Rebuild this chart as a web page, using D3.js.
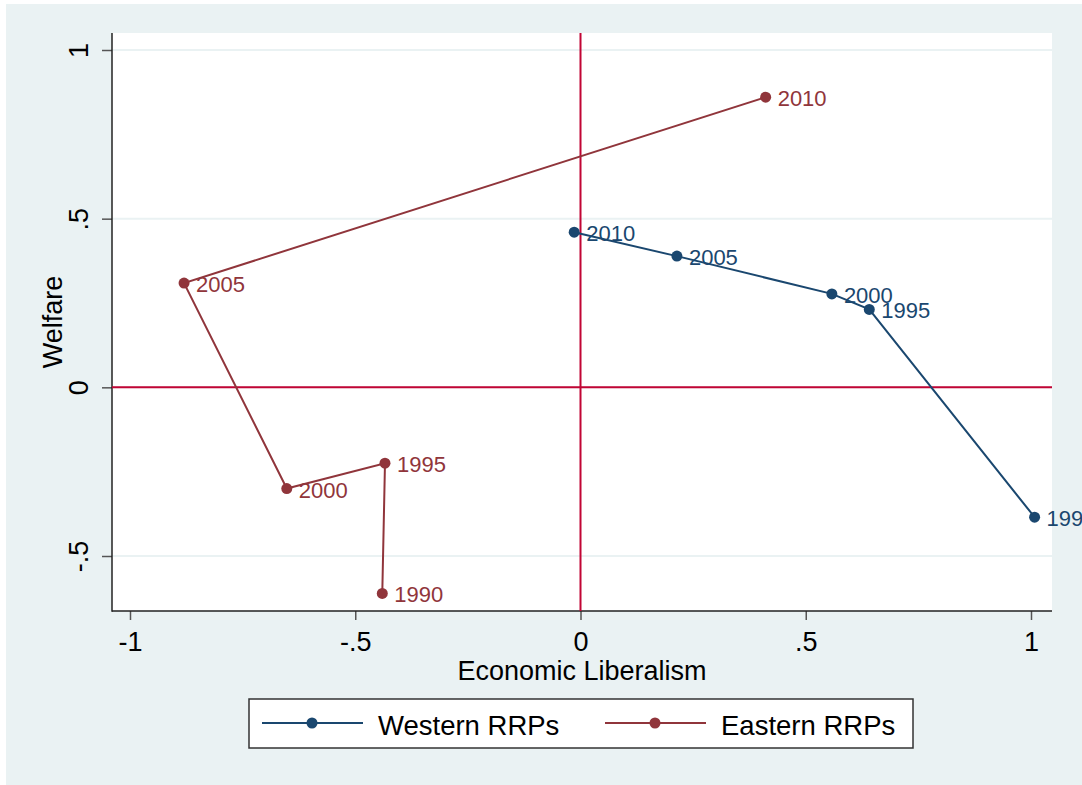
<!DOCTYPE html>
<html>
<head>
<meta charset="utf-8">
<script src="https://cdn.jsdelivr.net/npm/d3@7"></script>
<style>
  body { margin: 0; background: #fff; }
  svg { display: block; font-family: Arial, "Liberation Sans", sans-serif; }
</style>
</head>
<body>
<svg id="chart" width="1082" height="785"></svg>
<script>
// data
const years = [1990, 1995, 2000, 2005, 2010];
const westernLib = [1.008, 0.641, 0.558, 0.214, -0.014];
const westernWelfare = [-0.385, 0.231, 0.277, 0.389, 0.46];
const easternLib = [-0.44, -0.434, -0.652, -0.88, 0.411];
const easternWelfare = [-0.611, -0.225, -0.3, 0.309, 0.86];

const seriesNames = ['Western RRPs', 'Eastern RRPs'];
const seriesColors = ['#1a476f', '#90353b'];

const xTicks = [-1, -0.5, 0, 0.5, 1];
const xTickLabels = ['-1', '-.5', '0', '.5', '1'];
const yTicks = [-0.5, 0, 0.5, 1];
const yTickLabels = ['-.5', '0', '.5', '1'];

const render = () => {
  const svg = d3.select('#chart');

  // plot region in pixels
  const plot = { left: 112, right: 1052, top: 33, bottom: 611 };

  const x = d3.scaleLinear().domain([-1, 1]).range([130, 1031]);
  const y = d3.scaleLinear().domain([-0.5, 1]).range([556, 50]);

  const series = [
    { name: seriesNames[0], color: seriesColors[0], lib: westernLib, welfare: westernWelfare },
    { name: seriesNames[1], color: seriesColors[1], lib: easternLib, welfare: easternWelfare }
  ].map((s) => ({
    ...s,
    points: years.map((yr, i) => ({ year: yr, x: s.lib[i], y: s.welfare[i] }))
  }));

  // graph region background
  svg.append('rect')
    .attr('x', 6).attr('y', 4)
    .attr('width', 1082).attr('height', 785)
    .attr('fill', '#eaf2f3');

  // plot region
  svg.append('rect')
    .attr('x', plot.left).attr('y', plot.top)
    .attr('width', plot.right - plot.left)
    .attr('height', plot.bottom - plot.top)
    .attr('fill', '#fff');

  // horizontal gridlines
  svg.append('g')
    .selectAll('line')
    .data(yTicks)
    .enter()
    .append('line')
    .attr('x1', plot.left).attr('x2', plot.right)
    .attr('y1', (d) => y(d)).attr('y2', (d) => y(d))
    .attr('stroke', '#eaf2f3')
    .attr('stroke-width', 2);

  // x axis
  const xAxis = d3.axisBottom(x)
    .tickValues(xTicks)
    .tickFormat((d, i) => xTickLabels[i])
    .tickSize(9)
    .tickSizeOuter(0)
    .tickPadding(12);

  const gx = svg.append('g')
    .attr('transform', `translate(0, ${plot.bottom})`)
    .call(xAxis);
  gx.select('.domain').remove();
  gx.selectAll('.tick line').attr('stroke', '#555').attr('stroke-width', 1.5);
  gx.selectAll('.tick text')
    .attr('fill', '#000')
    .style('font-size', '27px')
    .style('font-family', 'Arial, "Liberation Sans", sans-serif');

  // y axis with rotated labels
  const yAxis = d3.axisLeft(y)
    .tickValues(yTicks)
    .tickFormat((d, i) => yTickLabels[i])
    .tickSize(10)
    .tickSizeOuter(0);

  const gy = svg.append('g')
    .attr('transform', `translate(${plot.left}, 0)`)
    .call(yAxis);
  gy.select('.domain').remove();
  gy.selectAll('.tick line').attr('stroke', '#555').attr('stroke-width', 1.5);
  gy.selectAll('.tick text')
    .attr('transform', 'rotate(-90)')
    .attr('x', 0)
    .attr('y', -24)
    .attr('dy', 0)
    .attr('text-anchor', 'middle')
    .attr('fill', '#000')
    .style('font-size', '27px')
    .style('font-family', 'Arial, "Liberation Sans", sans-serif');

  // axis lines
  svg.append('line')
    .attr('x1', plot.left).attr('x2', plot.left)
    .attr('y1', plot.top).attr('y2', plot.bottom + 0.75)
    .attr('stroke', '#222').attr('stroke-width', 1.5);
  svg.append('line')
    .attr('x1', plot.left).attr('x2', plot.right)
    .attr('y1', plot.bottom).attr('y2', plot.bottom)
    .attr('stroke', '#222').attr('stroke-width', 1.5);

  // red reference lines at zero
  svg.append('line')
    .attr('x1', x(0)).attr('x2', x(0))
    .attr('y1', plot.top).attr('y2', plot.bottom)
    .attr('stroke', '#c10534').attr('stroke-width', 2);
  svg.append('line')
    .attr('x1', plot.left).attr('x2', plot.right)
    .attr('y1', y(0)).attr('y2', y(0))
    .attr('stroke', '#c10534').attr('stroke-width', 2);

  // connected series
  const line = d3.line().x((d) => x(d.x)).y((d) => y(d.y));

  const groups = svg.append('g')
    .selectAll('g')
    .data(series)
    .enter()
    .append('g');

  groups.append('path')
    .attr('d', (d) => line(d.points))
    .attr('fill', 'none')
    .attr('stroke', (d) => d.color)
    .attr('stroke-width', 2);

  groups.selectAll('circle')
    .data((d) => d.points.map((p) => ({ ...p, color: d.color })))
    .enter()
    .append('circle')
    .attr('cx', (d) => x(d.x))
    .attr('cy', (d) => y(d.y))
    .attr('r', 5.5)
    .attr('fill', (d) => d.color);

  groups.selectAll('text')
    .data((d) => d.points.map((p) => ({ ...p, color: d.color })))
    .enter()
    .append('text')
    .attr('x', (d) => x(d.x) + 12)
    .attr('y', (d) => y(d.y) + 9)
    .attr('fill', (d) => d.color)
    .style('font-size', '22px')
    .text((d) => d.year);

  // axis titles
  svg.append('text')
    .attr('transform', `translate(62, ${(plot.top + plot.bottom) / 2}) rotate(-90)`)
    .attr('text-anchor', 'middle')
    .style('font-size', '27px')
    .text('Welfare');

  svg.append('text')
    .attr('x', (plot.left + plot.right) / 2)
    .attr('y', 680)
    .attr('text-anchor', 'middle')
    .style('font-size', '27px')
    .text('Economic Liberalism');

  // legend
  const legend = svg.append('g')
    .attr('id', 'legend')
    .attr('transform', 'translate(249, 699)');

  legend.append('rect')
    .attr('width', 664)
    .attr('height', 49)
    .attr('fill', '#fff')
    .attr('stroke', '#333')
    .attr('stroke-width', 1.5);

  const entries = legend.selectAll('g.entry')
    .data(series)
    .enter()
    .append('g')
    .attr('class', 'entry')
    .attr('transform', (d, i) => `translate(${13 + i * 343}, 24)`);

  entries.append('line')
    .attr('x1', 0).attr('x2', 101)
    .attr('stroke', (d) => d.color)
    .attr('stroke-width', 2);

  entries.append('circle')
    .attr('cx', 50).attr('r', 5.5)
    .attr('fill', (d) => d.color);

  entries.append('text')
    .attr('x', 116)
    .attr('y', 12)
    .style('font-size', '27.5px')
    .attr('fill', '#000')
    .text((d) => d.name);
};

render();
</script>
</body>
</html>
